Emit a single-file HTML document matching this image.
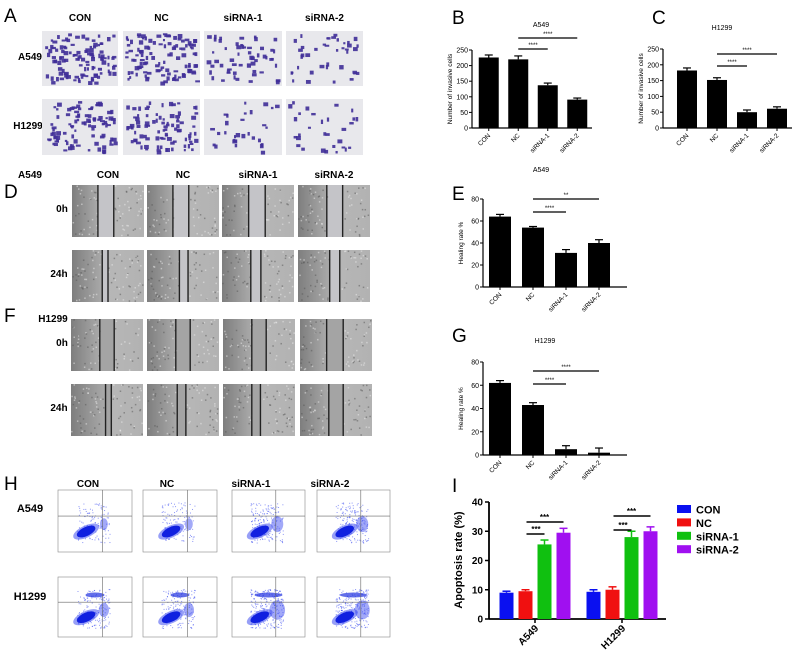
<!DOCTYPE html>
<html><head><meta charset="utf-8"><style>
html,body{margin:0;padding:0;background:#fff;width:800px;height:655px;overflow:hidden}
svg{display:block;font-family:"Liberation Sans",Arial,sans-serif}
</style></head><body>
<svg id="fig" width="800" height="655" viewBox="0 0 800 655" xmlns="http://www.w3.org/2000/svg">
<defs>
<linearGradient id="woundL" x1="0" x2="1"><stop offset="0" stop-color="#7e7e7e"/><stop offset="1" stop-color="#aaaaaa"/></linearGradient>
<linearGradient id="woundR" x1="0" x2="1"><stop offset="0" stop-color="#bcbcbc"/><stop offset="1" stop-color="#b2b2b2"/></linearGradient>
</defs>
</svg>
<script>
// ---------- chart data ----------
const groups = ["CON","NC","siRNA-1","siRNA-2"];
const invasionA549 = [226,220,137,91];
const invasionA549Err = [8,11,7,5];
const invasionH1299 = [182,152,50,61];
const invasionH1299Err = [8,7,7,6];
const invasionTicks = [0,50,100,150,200,250];
const healingA549 = [64,54,31,40];
const healingA549Err = [2,1,3,3];
const healingH1299 = [62,43,5,2];
const healingH1299Err = [2,2,3,4];
const healingTicks = [0,20,40,60,80];
const apoCells = ["A549","H1299"];
const apoA549 = [9,9.5,25.5,29.5];
const apoA549Err = [0.5,0.5,1.5,1.5];
const apoH1299 = [9.3,10,28,30];
const apoH1299Err = [0.7,1,2,1.5];
const apoTicks = [0,10,20,30,40];
const apoColors = ["#0a10f0","#f01010","#10c010","#a010f0"];

const svg = document.getElementById('fig');
const NS = "http://www.w3.org/2000/svg";
function mk(tag, attrs, parent){
  const e = document.createElementNS(NS, tag);
  for (const k in attrs) e.setAttribute(k, attrs[k]);
  (parent||svg).appendChild(e);
  return e;
}
function txt(x,y,s,size,opts,parent){
  opts = opts||{};
  const t = mk('text',{x:x,y:y,'font-size':size,'fill':opts.fill||'#000','text-anchor':opts.anchor||'middle','font-weight':opts.bold?'bold':'normal'},parent);
  if (opts.rot) t.setAttribute('transform','rotate('+opts.rot+' '+x+' '+y+')');
  t.textContent = s;
  return t;
}
// seeded prng for decorative textures only
let seed = 12345;
function rnd(){ seed = (seed*1103515245+12345)%2147483648; return seed/2147483648; }

// ---------- panel letters ----------
[["A",4,22],["B",452,24],["C",652,24],["D",4,198],["E",452,200],["F",4,322],["G",452,342],["H",4,490],["I",452,492]].forEach(p=>{
  const t = txt(p[1],p[2],p[0],19,{anchor:'start'});
  
  
});

// ---------- Panel A: transwell images ----------
const gA = mk('g',{});


const aCols = [[42,118],[123,200],[204,282],[286,363]];
const aRows = [[31,86],[99,155]];
const aDens = [[110,110,55,40],[95,90,30,30]];
groups.forEach((g,i)=>{ const t=txt((aCols[i][0]+aCols[i][1])/2,21,g,10,{bold:true},gA);   });
txt(30,60,"A549",10,{bold:true},gA); txt(28,129,"H1299",10,{bold:true},gA);
aRows.forEach((r,ri)=>aCols.forEach((c,ci)=>{
  const w=c[1]-c[0], h=r[1]-r[0];
  const im = mk('rect',{x:c[0],y:r[0],width:w,height:h,fill:'#e8e8ec'},gA);
  
  
  const n = aDens[ri][ci];
  for(let k=0;k<n;k++){
    const x=c[0]+2+rnd()*(w-6), y=r[0]+2+rnd()*(h-6);
    mk('rect',{x:x,y:y,width:2+rnd()*3,height:2+rnd()*2.5,fill:'#3f2d98',opacity:0.9},gA);
  }
}));

// ---------- Panels D/F: wound images ----------
function woundPanel(cols, rows, gaps, dark){
  const g = mk('g',{});
  rows.forEach((r,ri)=>cols.forEach((c,ci)=>{
    const w=c[1]-c[0], h=r[1]-r[0];
    const gp = gaps[ri][ci];
    const im = mk('rect',{x:c[0],y:r[0],width:w,height:h,fill:'url(#woundR)'},g);
    
    
    mk('rect',{x:c[0],y:r[0],width:gp[0]*w,height:h,fill:'url(#woundL)'},g);
    mk('rect',{x:c[0]+gp[0]*w,y:r[0],width:(gp[1]-gp[0])*w,height:h,fill:dark?'#a4a4a4':'#c4c4c8'},g);
    for(let k=0;k<90;k++){
      const x=c[0]+rnd()*(w-1.5), y=r[0]+rnd()*(h-1.5);
      const rx=(x-c[0])/w; if(rx>gp[0]&&rx<gp[1]) continue;
      mk('rect',{x:x,y:y,width:1.5,height:1.5,fill:rnd()>0.5?'#eee':'#555',opacity:0.5},g);
    }
    mk('rect',{x:c[0]+gp[0]*w-0.7,y:r[0],width:1.4,height:h,fill:'#222'},g);
    mk('rect',{x:c[0]+gp[1]*w-0.7,y:r[0],width:1.4,height:h,fill:'#222'},g);
  }));
  return g;
}
const gD = woundPanel([[72,144],[147,219],[222,294],[298,370]],[[185,237],[250,302]],
  [[[0.36,0.58],[0.36,0.58],[0.37,0.6],[0.4,0.62]],[[0.42,0.5],[0.45,0.57],[0.4,0.54],[0.44,0.58]]],false);


[["A549",30],["CON",108],["NC",183],["siRNA-1",258],["siRNA-2",334]].forEach(h=>txt(h[1],178,h[0],10,{bold:true},gD));
txt(62,212,"0h",10,{bold:true},gD); txt(59,277,"24h",10,{bold:true},gD);
const gF = woundPanel([[71,143],[147,219],[223,295],[300,372]],[[319,371],[384,436]],
  [[[0.4,0.6],[0.4,0.6],[0.4,0.6],[0.37,0.6]],[[0.48,0.56],[0.42,0.54],[0.4,0.52],[0.4,0.6]]],true);


txt(53,322,"H1299",10,{bold:true},gF);
txt(62,346,"0h",10,{bold:true},gF); txt(59,411,"24h",10,{bold:true},gF);

// ---------- Panel H: flow cytometry ----------
const gH = mk('g',{});


const hCols=[[58,132],[143,217],[232,305],[317,390]];
const hRows=[[490,552],[577,637]];
const apopLoad=[[0.15,0.15,0.5,0.5],[0.35,0.35,0.8,0.75]];
[["CON",88],["NC",167],["siRNA-1",251],["siRNA-2",330]].forEach(h=>txt(h[1],487,h[0],10,{bold:true},gH));
txt(30,512,"A549",11,{bold:true},gH); txt(30,600,"H1299",11,{bold:true},gH);
hRows.forEach((r,ri)=>hCols.forEach((c,ci)=>{
  const w=c[1]-c[0], h=r[1]-r[0];
  const f = mk('rect',{x:c[0],y:r[0],width:w,height:h,fill:'#fff',stroke:'#888','stroke-width':0.6},gH);
  
  
  const qx=c[0]+0.6*w, qy=r[0]+0.42*h;
  const L=apopLoad[ri][ci];
  for(let k=0;k<Math.round(80+200*L);k++){
    const x=c[0]+w*(0.25+rnd()*0.45), y=r[0]+h*(0.2+rnd()*0.65);
    mk('rect',{x:x,y:y,width:1,height:1,fill:'#4050f0',opacity:0.6},gH);
  }
  const bx=c[0]+0.38*w, by=r[0]+0.67*h;
  mk('ellipse',{cx:bx,cy:by,rx:14,ry:6,fill:'#3040f0',opacity:0.5,transform:'rotate(-25 '+bx+' '+by+')'},gH);
  mk('ellipse',{cx:bx,cy:by,rx:10,ry:4.5,fill:'#1020e0',transform:'rotate(-25 '+bx+' '+by+')'},gH);
  mk('ellipse',{cx:c[0]+0.62*w,cy:r[0]+0.55*h,rx:3+6*L,ry:5+6*L,fill:'#3040f0',opacity:0.45},gH);
  if(ri===1) mk('ellipse',{cx:c[0]+0.5*w,cy:r[0]+0.3*h,rx:6+10*L,ry:2.5,fill:'#2030e0',opacity:0.7},gH);
  mk('line',{x1:qx,y1:r[0],x2:qx,y2:r[1],stroke:'#666','stroke-width':0.6},gH);
  mk('line',{x1:c[0],y1:qy,x2:c[1],y2:qy,stroke:'#666','stroke-width':0.6},gH);
}));

// ---------- generic bar chart ----------
function barChart(o){
  const g = mk('g',{});
  const ys = v => o.y0 - (v/o.ymax)*(o.y0-o.ytop);
  const xs = i => o.x0 + (i+0.5)*o.band;
  o.ticks.forEach(t=>{
    mk('line',{x1:o.axisX-3,y1:ys(t),x2:o.axisX,y2:ys(t),stroke:'#000','stroke-width':1},g);
    txt(o.axisX-4,ys(t)+2.5,String(t),7,{anchor:'end'},g);
  });
  mk('line',{x1:o.axisX,y1:o.ytop,x2:o.axisX,y2:o.y0,stroke:'#000','stroke-width':1.2},g);
  mk('line',{x1:o.axisX,y1:o.y0,x2:o.axisEnd,y2:o.y0,stroke:'#000','stroke-width':1.2},g);
  o.values.forEach((v,i)=>{
    const cx=xs(i), top=ys(v), eTop=ys(v+o.err[i]);
    mk('line',{x1:cx,y1:top,x2:cx,y2:eTop,stroke:'#000','stroke-width':1.2},g);
    mk('line',{x1:cx-4,y1:eTop,x2:cx+4,y2:eTop,stroke:'#000','stroke-width':1.2},g);
    const b = mk('rect',{x:cx-o.bw/2,y:top,width:o.bw,height:o.y0-top,fill:'#000'},g);
    
    
    mk('line',{x1:cx,y1:o.y0,x2:cx,y2:o.y0+3,stroke:'#000','stroke-width':1},g);
    txt(cx+2,o.y0+8,o.cats[i],6.5,{anchor:'end',rot:-45},g);
  });
  o.sig.forEach(s=>{
    mk('line',{x1:xs(s[0]),y1:s[2],x2:xs(s[1]),y2:s[2],stroke:'#000','stroke-width':1.2},g);
    txt((xs(s[0])+xs(s[1]))/2,s[2]-2,s[3],6,{},g);
  });
  txt(o.titleX,o.titleY,o.title,7,{},g);
  txt(o.axisX-20,(o.y0+o.ytop)/2,o.ylabel,6.5,{rot:-90},g);
  return g;
}
const gB = barChart({cats:groups,values:invasionA549,err:invasionA549Err,ticks:invasionTicks,ymax:250,y0:128,ytop:50,axisX:472,axisEnd:592,x0:474,band:29.5,bw:20,
  sig:[[1,2,49,"****"],[1,3,38,"****"]],title:"A549",titleX:541,titleY:27,ylabel:"Number of invasive cells"});


const gC = barChart({cats:groups,values:invasionH1299,err:invasionH1299Err,ticks:invasionTicks,ymax:250,y0:128,ytop:49,axisX:663,axisEnd:792,x0:672,band:30,bw:20,
  sig:[[1,2,66,"****"],[1,3,54,"****"]],title:"H1299",titleX:722,titleY:30,ylabel:"Number of invasive cells"});


const gE = barChart({cats:groups,values:healingA549,err:healingA549Err,ticks:healingTicks,ymax:80,y0:287,ytop:199,axisX:483,axisEnd:627,x0:483.5,band:33,bw:22,
  sig:[[1,2,212,"****"],[1,3,199,"**"]],title:"A549",titleX:541,titleY:172,ylabel:"Healing rate %"});


const gG = barChart({cats:groups,values:healingH1299,err:healingH1299Err,ticks:healingTicks,ymax:80,y0:455,ytop:362,axisX:483,axisEnd:627,x0:483.5,band:33,bw:22,
  sig:[[1,2,384,"****"],[1,3,371,"****"]],title:"H1299",titleX:545,titleY:343,ylabel:"Healing rate %"});



// ---------- Panel I: apoptosis grouped bars ----------
const gI = mk('g',{});


const iY0=619, iYtop=502, iAxisX=489;
const iy = v => iY0 - (v/40)*(iY0-iYtop);
const groupCenter = gi => 535 + gi*87;
const ix = (gi,si) => groupCenter(gi) + (si-1.5)*19;
apoTicks.forEach(t=>{
  mk('line',{x1:iAxisX-4,y1:iy(t),x2:iAxisX,y2:iy(t),stroke:'#000','stroke-width':1.5},gI);
  txt(iAxisX-6,iy(t)+3.5,String(t),10,{anchor:'end',bold:true},gI);
});
mk('line',{x1:iAxisX,y1:iYtop,x2:iAxisX,y2:iY0,stroke:'#000','stroke-width':1.8},gI);
mk('line',{x1:iAxisX,y1:iY0,x2:666,y2:iY0,stroke:'#000','stroke-width':1.8},gI);
txt(462,560,"Apoptosis rate (%)",11,{bold:true,rot:-90},gI);
[apoA549,apoH1299].forEach((vals,gi)=>{
  const errs = gi===0?apoA549Err:apoH1299Err;
  vals.forEach((v,si)=>{
    const cx=ix(gi,si), top=iy(v), eTop=iy(v+errs[si]);
    mk('line',{x1:cx,y1:top,x2:cx,y2:eTop,stroke:apoColors[si],'stroke-width':1.5},gI);
    mk('line',{x1:cx-4,y1:eTop,x2:cx+4,y2:eTop,stroke:apoColors[si],'stroke-width':1.5},gI);
    const b = mk('rect',{x:cx-7,y:top,width:14,height:iY0-top,fill:apoColors[si]},gI);
    
    
  });
  mk('line',{x1:groupCenter(gi),y1:iY0,x2:groupCenter(gi),y2:iY0+4,stroke:'#000','stroke-width':1.5},gI);
  txt(groupCenter(gi)+4,iY0+10,apoCells[gi],10,{anchor:'end',bold:true,rot:-45},gI);
});
[[0,534,522],[1,530,516]].forEach(s=>{
  const gi=s[0];
  mk('line',{x1:ix(gi,1)+1,y1:s[1],x2:ix(gi,2),y2:s[1],stroke:'#000','stroke-width':1.5},gI);
  txt((ix(gi,1)+ix(gi,2))/2+1,s[1]-2,"***",8,{bold:true},gI);
  mk('line',{x1:ix(gi,1)+1,y1:s[2],x2:ix(gi,3),y2:s[2],stroke:'#000','stroke-width':1.5},gI);
  txt((ix(gi,1)+ix(gi,3))/2,s[2]-2,"***",8,{bold:true},gI);
});
groups.forEach((g,si)=>{
  const y = 509 + si*13.4;
  const sw = mk('rect',{x:677,y:y-4,width:14,height:8,fill:apoColors[si]},gI);
  
  
  const t = txt(696,y+4.5,g,11,{anchor:'start',bold:true},gI);
  
  
});
</script>
</body></html>
